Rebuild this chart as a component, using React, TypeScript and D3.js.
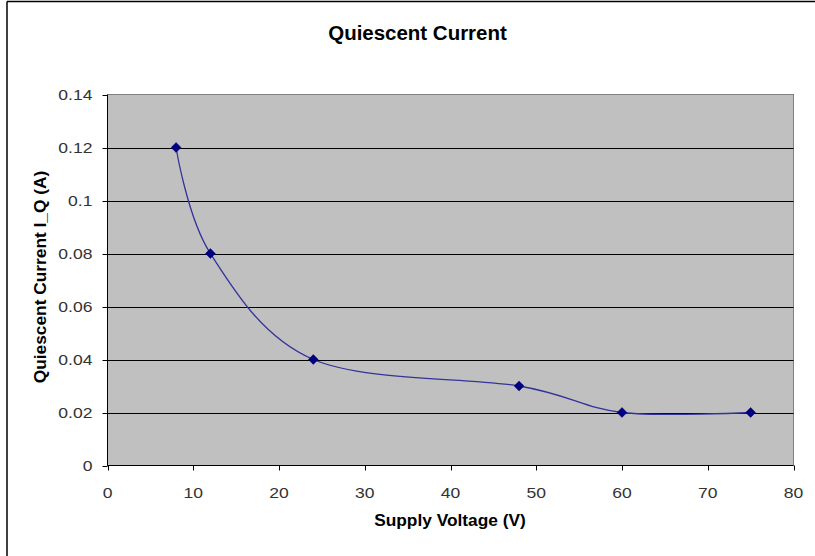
import React from "react";
import * as d3 from "d3";

const voltages = [8, 12, 24, 48, 60, 75];
const currents = [0.12, 0.08, 0.04, 0.03, 0.02, 0.02];
const xTicks = [0, 10, 20, 30, 40, 50, 60, 70, 80];
const yTicks = [0, 0.02, 0.04, 0.06, 0.08, 0.1, 0.12, 0.14];
const title = "Quiescent Current";
const xTitle = "Supply Voltage (V)";
const yTitle = "Quiescent Current I_Q (A)";

const W = 815;
const H = 556;
const left = 107.5;
const right = 793.5;
const top = 94.5;
const bottom = 465.5;
const font = "'Liberation Sans', Arial, sans-serif";
const stretch = 1.17;

export default function App() {
  const x = d3.scaleLinear().domain([0, 80]).range([left, right]);
  const y = d3.scaleLinear().domain([0, 0.14]).range([bottom, top]);
  const pts: [number, number][] = voltages.map((v, i) => [x(v), y(currents[i])]);
  const line = d3.line().curve(d3.curveCardinal.tension(0))(pts) || "";
  const diamond = d3.symbol().type(d3.symbolDiamond2).size(62)() || "";

  return (
    <svg width={W} height={H} style={{ position: "absolute", left: 0, top: 0, display: "block" }}>
      <rect x={0} y={0} width={W} height={H} fill="#fff" />
      <line x1={7} y1={1.5} x2={W} y2={1.5} stroke="#000" strokeWidth={1.5} />
      <line x1={7} y1={1.5} x2={7} y2={H} stroke="#000" strokeWidth={1.5} />
      <text transform={`translate(417.5,40) scale(1.05,1)`} textAnchor="middle" fontFamily={font} fontWeight="bold" fontSize={19.5} fill="#000">
        {title}
      </text>
      <rect x={left} y={top} width={right - left} height={bottom - top} fill="#c0c0c0" stroke="#808080" strokeWidth={1} />
      {yTicks.filter((t) => t > 0 && t < 0.14).map((t) => (
        <line key={"g" + t} x1={left} x2={right} y1={Math.round(y(t)) + 0.5} y2={Math.round(y(t)) + 0.5} stroke="#000" strokeWidth={1} />
      ))}
      <line x1={left} x2={left} y1={top} y2={bottom} stroke="#000" strokeWidth={1} />
      <line x1={left} x2={right} y1={bottom} y2={bottom} stroke="#000" strokeWidth={1} />
      {yTicks.map((t) => (
        <g key={"y" + t}>
          <line x1={left - 5} x2={left} y1={Math.round(y(t)) + 0.5} y2={Math.round(y(t)) + 0.5} stroke="#000" />
          <text transform={`translate(92.5,${y(t) + 5.5}) scale(${stretch},1)`} textAnchor="end" fontFamily={font} fontSize={15} fill="#333">
            {String(t)}
          </text>
        </g>
      ))}
      {xTicks.map((t) => (
        <g key={"x" + t}>
          <line x1={Math.round(x(t)) + 0.5} x2={Math.round(x(t)) + 0.5} y1={bottom} y2={bottom + 5} stroke="#000" />
          <text transform={`translate(${x(t)},498) scale(${stretch},1)`} textAnchor="middle" fontFamily={font} fontSize={15} fill="#333">
            {String(t)}
          </text>
        </g>
      ))}
      <path d={line} fill="none" stroke="#333399" strokeWidth={1.3} />
      {pts.map((p, i) => (
        <path key={"m" + i} d={diamond} transform={`translate(${p[0]},${p[1]})`} fill="#000080" stroke="#000080" strokeWidth={0.5} />
      ))}
      <text transform={`translate(450,526) scale(1.05,1)`} textAnchor="middle" fontFamily={font} fontWeight="bold" fontSize={16.5} fill="#000">
        {xTitle}
      </text>
      <text transform={`translate(45.5,277) rotate(-90) scale(1.05,1)`} textAnchor="middle" fontFamily={font} fontWeight="bold" fontSize={16.5} fill="#000">
        {yTitle}
      </text>
    </svg>
  );
}
